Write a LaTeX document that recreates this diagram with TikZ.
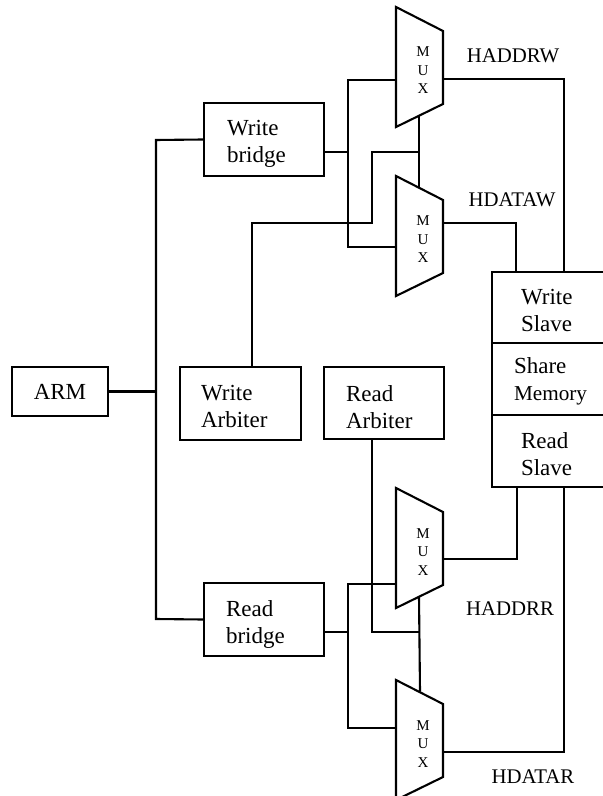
\documentclass[tikz,border=0pt]{standalone}
\usepackage{fontspec}
\setmainfont{Liberation Serif}
\begin{document}
\begin{tikzpicture}[x=0.5pt,y=-0.5pt,
  line width=1.05pt,
  box/.style={draw, rectangle, inner sep=0pt},
  txt/.style={inner sep=0pt, align=left, anchor=base west, font=\fontsize{11.5pt}{13.5pt}\selectfont},
  sig/.style={inner sep=0pt, anchor=base, font=\fontsize{10.4pt}{12pt}\selectfont},
  muxtxt/.style={inner sep=0pt, anchor=base, align=center, font=\fontsize{7.5pt}{9.25pt}\selectfont},
  wire/.style={draw}
]
\useasboundingbox (0,0) rectangle (603,796);

% boxes
\node[box, minimum width=48pt, minimum height=24.5pt, font=\fontsize{11.5pt}{13.5pt}\selectfont] (arm) at (60,391.5) {ARM};
\node[box, minimum width=60pt, minimum height=36.5pt] (wb) at (264,139.5) {};
\node[box, minimum width=60.5pt, minimum height=36.5pt] (wa) at (240.5,403.5) {};
\node[box, minimum width=60pt, minimum height=36pt] (ra) at (384,403) {};
\node[box, minimum width=60pt, minimum height=36.5pt] (rb) at (264,619.5) {};
\node[box, minimum width=57pt, minimum height=35.5pt] (ws) at (549,307.5) {};
\node[box, minimum width=57pt, minimum height=36pt] (sm) at (549,379) {};
\node[box, minimum width=57pt, minimum height=36pt] (rs) at (549,451) {};

% box texts (anchor = baseline of last line)
\node[txt] (wbt) at (226,163) {Write\\bridge};
\node[txt] (wat) at (200,427) {Write\\Arbiter};
\node[txt] (rat) at (345,428) {Read\\Arbiter};
\node[txt] (rbt) at (225,643) {Read\\bridge};
\node[txt] (wst) at (520,331) {Write\\Slave};
\node[txt] (smt) at (513,400) {Share\\{\fontsize{10.6pt}{12pt}\selectfont Memory}};
\node[txt] (rst) at (520,475) {Read\\Slave};

% multiplexers
\foreach \n/\t in {1/7,2/176,3/488,4/680} {
  \draw (396,\t) coordinate (mux\n tl) -- (443,\t+24) -- (443,\t+97) -- (396,\t+120) -- cycle;
  \node[muxtxt] (mux\n) at (423,\t+87) {M\\U\\X};
}

% signal labels
\node[sig] (haddrw) at (513,63) {HADDRW};
\node[sig] (hdataw) at (512,207) {HDATAW};
\node[sig] (haddrr) at (510,615) {HADDRR};
\node[sig] (hdatar) at (533,783) {HDATAR};

% pin coordinates
\coordinate (busT) at (156,140);
\coordinate (busB) at (156,619);
\coordinate (m1in) at (396,80);
\coordinate (m2in) at (396,247);
\coordinate (m3in) at (396,584);
\coordinate (m4in) at (396,728);
\coordinate (m1out) at (443,79);
\coordinate (m2out) at (443,223);
\coordinate (m3out) at (443,559);
\coordinate (m4out) at (443,752);
\coordinate (m1sel) at (419,115.7);
\coordinate (m2sel) at (419,187.7);
\coordinate (m3sel) at (419,596.7);
\coordinate (m4sel) at (420,691.5);
\coordinate (wbo) at (324,152);
\coordinate (rbo) at (324,632);
\coordinate (wsplit) at (348,152);
\coordinate (rsplit) at (348,632);

% ARM bus
\draw (arm.east) -- (arm.east -| busT);
\draw (wb.west) -- (busT) -- (busB) -- (rb.west);

% write side
\draw (wbo) -- (wsplit);
\draw (m1in) -- (348,80) -- (348,247) -- (m2in);
\draw (m1sel) -- (m2sel);
\draw (419,152) -- (372,152) -- (372,223) -- (252,223) -- (wa.north -| 252,0);
\draw (m1out) -- (564,79) -- (ws.north -| 564,0);
\draw (m2out) -- (516,223) -- (ws.north -| 516,0);

% read side
\draw (rbo) -- (rsplit);
\draw (m3in) -- (348,584) -- (348,728) -- (m4in);
\draw (m3sel) -- (m4sel);
\draw (ra.south -| 372,0) -- (372,632) -- (419.5,632);
\draw (rs.south -| 517,0) -- (517,559) -- (m3out);
\draw (rs.south -| 564,0) -- (564,752) -- (m4out);
\end{tikzpicture}
\end{document}
